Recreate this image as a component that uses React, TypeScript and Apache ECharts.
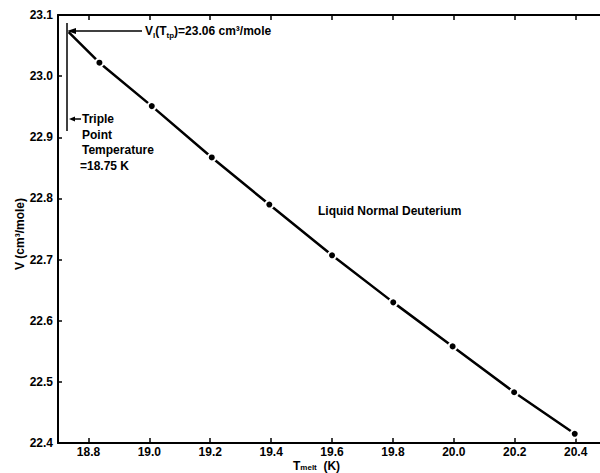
import React, { useEffect, useRef } from "react";
import * as echarts from "echarts";

// Curve start at the triple point (as drawn)
const tripleT = 18.735;
const tripleV = 23.072;
// Measured points (K, cm^3/mole)
const measuredT = [18.836, 19.008, 19.205, 19.394, 19.6, 19.801, 19.996, 20.198, 20.397];
const measuredV = [23.022, 22.951, 22.867, 22.79, 22.707, 22.63, 22.558, 22.483, 22.415];
// Tick values
const xTicks = [18.8, 19.0, 19.2, 19.4, 19.6, 19.8, 20.0, 20.2, 20.4];
const yTicks = [22.4, 22.5, 22.6, 22.7, 22.8, 22.9, 23.0, 23.1];

const FONT = "'Liberation Sans', Arial, sans-serif";

export default function App() {
  const ref = useRef<HTMLDivElement>(null);
  useEffect(() => {
    if (!ref.current) return;
    const chart = echarts.init(ref.current, null, { renderer: "svg" });
    const lineData: any[] = [{ value: [tripleT, tripleV], symbol: "none" }];
    measuredT.forEach((t, i) => lineData.push({ value: [t, measuredV[i]] }));

    const txt = (text: string, x: number, y: number, extra: any = {}) => ({
      type: "text",
      x,
      y,
      style: {
        text,
        fill: "#000",
        fontFamily: FONT,
        fontWeight: "bold",
        fontSize: 12,
        verticalAlign: "middle",
        ...extra,
      },
    });
    const rich = {
      b: { fontFamily: FONT, fontWeight: "bold", fontSize: 12, lineHeight: 16, fill: "#000", color: "#000" },
      s: { fontFamily: FONT, fontWeight: "bold", fontSize: 8, lineHeight: 16, verticalAlign: "bottom", fill: "#000", color: "#000" },
    };
    const richSmall = {
      b: { fontFamily: FONT, fontWeight: "bold", fontSize: 12, lineHeight: 10, fill: "#000", color: "#000" },
      s: { fontFamily: FONT, fontWeight: "bold", fontSize: 8, lineHeight: 10, verticalAlign: "bottom", fill: "#000", color: "#000" },
    };

    const axisCommon = {
      type: "value",
      min: 18.7,
      max: 20.48,
      splitLine: { show: false },
      axisLine: { show: true, lineStyle: { color: "#000", width: 2 } },
    };

    chart.setOption({
      animation: false,
      backgroundColor: "#fff",
      grid: { left: 58, right: 0, top: 15, bottom: 30 },
      xAxis: [
        {
          ...axisCommon,
          position: "bottom",
          axisTick: { show: true, inside: true, length: 5, customValues: xTicks, lineStyle: { color: "#000", width: 1.5 } },
          axisLabel: {
            customValues: xTicks,
            formatter: (v: number) => v.toFixed(1),
            color: "#000",
            fontFamily: FONT,
            fontWeight: "bold",
            fontSize: 12,
            margin: 3,
          },
        },
        {
          ...axisCommon,
          position: "top",
          axisTick: { show: true, inside: true, length: 5, customValues: xTicks, lineStyle: { color: "#000", width: 1.5 } },
          axisLabel: { show: false },
        },
      ],
      yAxis: {
        type: "value",
        min: 22.4,
        max: 23.1,
        splitLine: { show: false },
        axisLine: { show: true, lineStyle: { color: "#000", width: 2 } },
        axisTick: { show: true, inside: true, length: 4, customValues: yTicks, lineStyle: { color: "#000", width: 1.5 } },
        axisLabel: {
          customValues: yTicks,
          formatter: (v: number) => v.toFixed(1),
          color: "#000",
          fontFamily: FONT,
          fontWeight: "bold",
          fontSize: 12,
          margin: 5,
        },
      },
      series: [
        {
          type: "line",
          data: lineData,
          symbol: "circle",
          symbolSize: 8,
          showSymbol: true,
          lineStyle: { color: "#000", width: 2.5 },
          itemStyle: { color: "#000", borderColor: "#fff", borderWidth: 2 },
          silent: true,
        },
      ],
      graphic: [
        { type: "line", shape: { x1: 67, y1: 23, x2: 67, y2: 131 }, style: { stroke: "#000", lineWidth: 1.5 } },
        { type: "line", shape: { x1: 72, y1: 31, x2: 142, y2: 31 }, style: { stroke: "#000", lineWidth: 1.5 } },
        { type: "polygon", shape: { points: [[67, 31], [76, 28], [76, 34]] }, style: { fill: "#000" } },
        {
          type: "text",
          x: 145,
          y: 31,
          style: {
            text: "{b|V}{s|l}{b|(T}{s|tp}{b|)=23.06 cm³/mole}",
            rich,
            verticalAlign: "middle",
          },
        },
        { type: "line", shape: { x1: 72, y1: 119, x2: 81, y2: 119 }, style: { stroke: "#000", lineWidth: 1.5 } },
        { type: "polygon", shape: { points: [[69, 119], [75, 116.5], [75, 121.5]] }, style: { fill: "#000" } },
        txt("Triple", 82, 119),
        txt("Point", 82, 135),
        txt("Temperature", 82, 150),
        txt("=18.75 K", 80, 166),
        txt("Liquid Normal Deuterium", 318, 211),
        {
          type: "text",
          x: 20,
          y: 234,
          rotation: Math.PI / 2,
          style: {
            text: "V (cm³/mole)",
            fill: "#000",
            fontFamily: FONT,
            fontWeight: "bold",
            fontSize: 12,
            align: "center",
            verticalAlign: "middle",
          },
        },
        {
          type: "text",
          x: 293,
          y: 466,
          style: {
            text: "{b|T}{s|melt}{b|  (K)}",
            rich: richSmall,
            verticalAlign: "middle",
          },
        },
      ],
    });
    return () => chart.dispose();
  }, []);
  return (
    <div
      ref={ref}
      style={{ position: "absolute", left: 0, top: 0, width: 600, height: 473 }}
    />
  );
}
